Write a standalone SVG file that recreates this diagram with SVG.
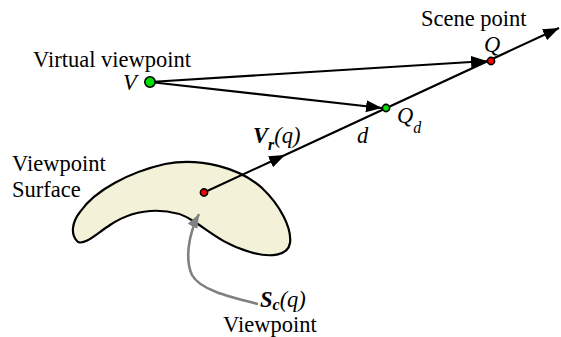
<svg xmlns="http://www.w3.org/2000/svg" width="561" height="337" viewBox="0 0 561 337">
<defs>
<style>
text{font-family:'Liberation Serif','Times New Roman',serif;font-size:22.5px;fill:#000}
.it{font-style:italic}
.bi{font-style:italic;font-weight:bold}
.sub{font-size:16px}
.ln{stroke:#000;stroke-width:2.2;fill:none}
.gray{stroke:#808080;stroke-width:2.6;fill:none}
.pt{stroke:#000;stroke-width:1.6}
</style>
<marker id="ah" markerUnits="userSpaceOnUse" markerWidth="20" markerHeight="14" refX="16" refY="6" orient="auto">
<path d="M0,0 L16,6 L0,12 Z" fill="#000"/>
</marker>
<marker id="ahg" markerUnits="userSpaceOnUse" markerWidth="16" markerHeight="14" refX="14" refY="5.5" orient="auto">
<path d="M0,0 L14,5.5 L0,11 Z" fill="#808080"/>
</marker>
</defs>
<g id="surface">
<path d="M78,242 C70,235 72,222 80,212 C95,190 130,172 165,164 C200,157 240,168 262,188 C280,205 292,228 290,243 C288,256 270,258 250,252 C225,245 210,232 195,222 C175,208 140,205 110,225 C95,235 85,245 78,242 Z" fill="#f3f2d9" stroke="#000" stroke-width="2.2"/>
</g>
<g id="connectors">
<polyline class="ln" points="205,192 285,155 559,28" marker-mid="url(#ah)" marker-end="url(#ah)"/>
<line class="ln" x1="150" y1="82" x2="487" y2="61" marker-end="url(#ah)"/>
<line class="ln" x1="150" y1="82" x2="382" y2="108" marker-end="url(#ah)"/>
<path class="gray" d="M258,304 C230,297 200,290 192,275 C185,260 188,235 199,214" marker-end="url(#ahg)"/>
</g>
<g id="virtual-viewpoint">
<circle class="pt" cx="150" cy="82" r="5.2" fill="#00e000"/>
<text x="33" y="67">Virtual viewpoint</text>
<text class="it" x="123" y="90">V</text>
</g>
<g id="scene-point">
<circle class="pt" cx="491" cy="61" r="3.6" fill="#ff0000"/>
<text x="421" y="26">Scene point</text>
<text class="it" x="484" y="52">Q</text>
</g>
<g id="qd">
<circle class="pt" cx="386" cy="108" r="3.6" fill="#00e000"/>
<text class="it" x="397" y="123">Q<tspan class="sub" dy="10">d</tspan></text>
<text class="it" x="357" y="143">d</text>
</g>
<g id="vr">
<text x="253" y="143"><tspan class="bi">V</tspan><tspan class="bi sub" dy="7">r</tspan><tspan class="it" dy="-7">(q)</tspan></text>
</g>
<g id="sc">
<circle class="pt" cx="204" cy="192.5" r="3.6" fill="#ff0000"/>
<text x="260" y="307"><tspan class="bi">S</tspan><tspan class="bi sub" dy="3">c</tspan><tspan class="it" dy="-3">(q)</tspan></text>
<text x="223" y="332">Viewpoint</text>
</g>
<g id="surface-label">
<text x="12" y="171">Viewpoint</text>
<text x="12" y="197">Surface</text>
</g>
</svg>
